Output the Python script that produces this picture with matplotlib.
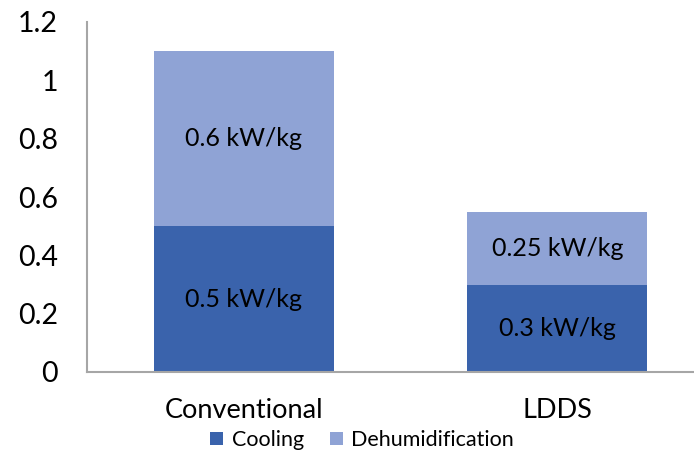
import numpy as np
import matplotlib.pyplot as plt
from matplotlib.ticker import FuncFormatter

plt.rcParams['font.family'] = ['Lato', 'DejaVu Sans']

systems = ["Conventional", "LDDS"]
cooling = [0.5, 0.3]
dehumidification = [0.6, 0.25]
cooling_labels = ["0.5 kW/kg", "0.3 kW/kg"]
dehum_labels = ["0.6 kW/kg", "0.25 kW/kg"]

dark_blue = "#3A63AC"
light_blue = "#8FA3D5"

fig = plt.figure(figsize=(6.94, 4.54), dpi=100)
# axes run past the right edge, like the cropped chart area
ax = fig.add_axes([87 / 694, 1 - 372 / 454, 627 / 694, 350 / 454])

x = np.arange(len(systems))
w = 0.574
b1 = ax.bar(x, cooling, w, color=dark_blue, label="Cooling")
b2 = ax.bar(x, dehumidification, w, bottom=cooling, color=light_blue,
            label="Dehumidification")

for i in range(len(systems)):
    ax.text(x[i], cooling[i] / 2, cooling_labels[i], ha="center", va="center",
            fontsize=18, color="black")
    ax.text(x[i], cooling[i] + dehumidification[i] / 2, dehum_labels[i],
            ha="center", va="center", fontsize=18, color="black")

ax.set_xlim(-0.5, 1.5)
ax.set_ylim(0, 1.2)
ax.set_yticks(np.arange(0, 1.21, 0.2))
ax.yaxis.set_major_formatter(FuncFormatter(lambda v, p: "%g" % round(v, 1)))
ax.set_xticks(x)
ax.set_xticklabels(systems)
ax.tick_params(axis="y", length=0, pad=21, labelsize=20.5)
ax.tick_params(axis="x", length=0, pad=19, labelsize=19.5)

for s in ["top", "right"]:
    ax.spines[s].set_visible(False)
for s in ["left", "bottom"]:
    ax.spines[s].set_color("#A6A6A6")
    ax.spines[s].set_linewidth(1.5)

fig.legend(handles=[b1, b2], loc="center", bbox_to_anchor=(362 / 694, 1 - 440 / 454),
           ncol=2, frameon=False, fontsize=15.5, handlelength=0.6, handleheight=0.6,
           handletextpad=0.4, columnspacing=1.2, borderpad=0)

fig.savefig("out.png", dpi=100)
